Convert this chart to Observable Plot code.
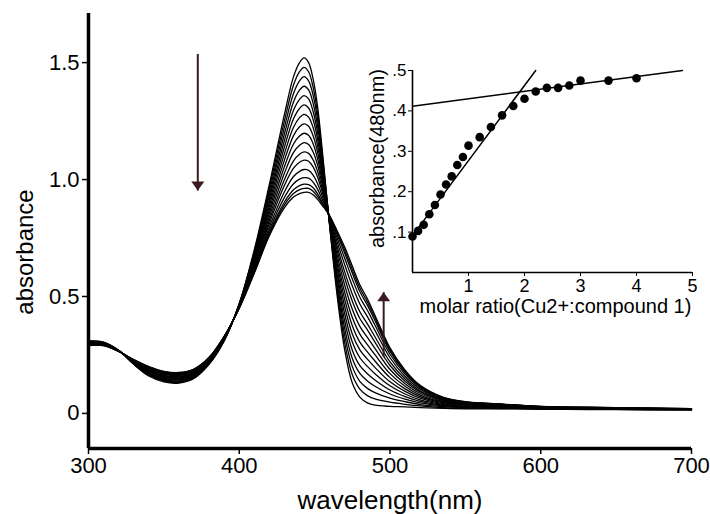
<!DOCTYPE html>
<html><head><meta charset="utf-8">
<script src="https://cdn.jsdelivr.net/npm/d3@7"></script>
<script src="https://cdn.jsdelivr.net/npm/@observablehq/plot@0.6"></script>
<style>
body{margin:0;background:#fff;}
#wrap{position:relative;width:710px;height:514px;}
#inset{position:absolute;left:355px;top:40px;}
</style>
</head><body><div id="wrap"><div id="main"></div><div id="inset"></div></div>
<script>
// ---- main chart: titration spectra (17 spectra) ----
const wavelengths = [300,310,320,330,340,350,360,370,380,390,400,410,420,430,436,440,443,446,449,452,455,460,465,470,475,480,485,490,500,510,520,535,550,575,600,650,700];
// one row per wavelength, 17 values (spectrum 1 .. spectrum 17)
const absorbanceRows = [
[.31,.309,.307,.306,.304,.303,.302,.300,.299,.297,.296,.295,.293,.292,.291,.291,.29],
[.305,.304,.303,.302,.301,.300,.299,.298,.297,.296,.295,.294,.293,.292,.291,.290,.29],
[.27,.27,.269,.269,.269,.268,.268,.268,.267,.267,.267,.266,.266,.266,.265,.265,.265],
[.21,.211,.213,.214,.216,.217,.218,.22,.221,.223,.224,.225,.227,.228,.229,.229,.23],
[.16,.163,.166,.168,.171,.174,.177,.18,.182,.185,.188,.19,.193,.196,.198,.199,.20],
[.135,.138,.141,.145,.148,.151,.154,.157,.160,.163,.167,.169,.172,.175,.177,.179,.18],
[.13,.133,.136,.139,.143,.146,.149,.152,.155,.158,.162,.164,.167,.17,.172,.174,.175],
[.15,.153,.156,.158,.161,.164,.167,.17,.172,.175,.178,.18,.183,.186,.188,.189,.19],
[.21,.212,.214,.216,.218,.221,.223,.225,.227,.229,.231,.233,.235,.237,.238,.239,.24],
[.31,.311,.313,.314,.316,.317,.318,.32,.321,.323,.324,.325,.327,.328,.329,.329,.33],
[.47,.469,.467,.466,.464,.463,.462,.46,.459,.457,.456,.455,.453,.452,.451,.451,.45],
[.70,.693,.686,.679,.672,.665,.658,.651,.644,.637,.63,.624,.617,.611,.606,.603,.60],
[.98,.965,.949,.934,.918,.903,.888,.872,.857,.841,.826,.813,.797,.784,.773,.767,.76],
[1.28,1.252,1.224,1.196,1.168,1.14,1.112,1.084,1.056,1.028,1.00,.976,.948,.924,.904,.892,.88],
[1.44,1.404,1.368,1.332,1.296,1.26,1.224,1.188,1.152,1.116,1.08,1.049,1.013,.982,.956,.94,.925],
[1.50,1.461,1.422,1.382,1.343,1.304,1.265,1.226,1.186,1.147,1.108,1.074,1.035,1.002,.974,.957,.94],
[1.52,1.48,1.44,1.399,1.359,1.319,1.279,1.238,1.198,1.158,1.118,1.083,1.043,1.008,.98,.962,.945],
[1.50,1.461,1.422,1.383,1.345,1.306,1.267,1.228,1.189,1.15,1.112,1.078,1.039,1.006,.978,.962,.945],
[1.43,1.395,1.361,1.326,1.291,1.257,1.222,1.187,1.153,1.118,1.084,1.054,1.019,.989,.965,.95,.935],
[1.31,1.282,1.255,1.227,1.199,1.172,1.144,1.116,1.089,1.061,1.034,1.01,.982,.958,.939,.927,.915],
[1.13,1.113,1.096,1.08,1.063,1.046,1.029,1.012,.996,.979,.962,.948,.931,.916,.904,.897,.89],
[.80,.803,.806,.81,.813,.816,.819,.822,.825,.828,.832,.834,.837,.84,.842,.844,.845],
[.50,.52,.539,.559,.578,.598,.618,.637,.657,.676,.696,.713,.732,.749,.763,.772,.78],
[.27,.301,.332,.362,.393,.424,.455,.486,.516,.547,.578,.604,.635,.662,.684,.697,.71],
[.13,.165,.2,.235,.27,.305,.34,.375,.41,.445,.48,.51,.545,.575,.60,.615,.63],
[.07,.104,.137,.171,.204,.238,.272,.305,.339,.372,.406,.435,.468,.497,.521,.536,.55],
[.045,.076,.107,.139,.17,.201,.232,.263,.294,.325,.357,.383,.414,.441,.463,.477,.49],
[.035,.062,.089,.116,.143,.17,.197,.224,.251,.278,.305,.328,.355,.378,.397,.409,.42],
[.03,.048,.065,.083,.10,.118,.135,.153,.17,.188,.205,.22,.238,.253,.265,.273,.28],
[.028,.039,.05,.061,.072,.083,.094,.105,.116,.127,.138,.147,.158,.168,.176,.18,.185],
[.025,.032,.038,.045,.052,.058,.065,.072,.078,.085,.092,.097,.104,.11,.114,.117,.12],
[.022,.025,.029,.032,.035,.039,.042,.046,.049,.052,.056,.059,.062,.065,.067,.069,.07],
[.02,.022,.024,.026,.028,.031,.033,.035,.037,.039,.041,.043,.045,.047,.048,.049,.05],
[.02,.021,.023,.024,.026,.027,.028,.03,.031,.033,.034,.035,.037,.038,.039,.039,.04],
[.018,.019,.02,.021,.021,.022,.023,.024,.025,.026,.026,.027,.028,.029,.029,.03,.03],
[.016,.017,.017,.018,.019,.019,.02,.02,.021,.022,.022,.023,.023,.024,.024,.025,.025],
[.015,.015,.016,.016,.016,.017,.017,.017,.018,.018,.019,.019,.019,.019,.02,.02,.02]
];
const mainXTicks = [300,400,500,600,700];
const mainYTicks = [0,0.5,1.0,1.5];
// annotation arrows (wavelength, absorbance start -> absorbance tip)
const arrowWavelength = [372.5, 495.8];
const arrowStart = [1.537, 0.24];
const arrowEnd = [0.953, 0.518];

// ---- inset: absorbance at 480 nm vs molar ratio ----
const molarRatio = [0,0.1,0.2,0.3,0.4,0.5,0.6,0.7,0.8,0.9,1.0,1.2,1.4,1.6,1.8,2.0,2.2,2.4,2.6,2.8,3.0,3.5,4.0];
const absorbance480 = [.089,.103,.118,.144,.167,.193,.218,.238,.266,.286,.314,.335,.360,.389,.412,.430,.448,.457,.457,.463,.475,.475,.481];
const fitRisingX = [0.02, 2.2];
const fitRisingY = [0.095, 0.5];
const fitPlateauX = [0, 4.82];
const fitPlateauY = [0.4115, 0.5];
const insetXTicks = [1,2,3,4,5];
const insetYTicks = [0.1,0.2,0.3,0.4,0.5];

const font = "'Liberation Sans', Arial, Helvetica, sans-serif";
const arrowColor = "#3a1a1e";

const spectra = [];
wavelengths.forEach((w, i) => absorbanceRows[i].forEach((a, k) => spectra.push({spectrum: k, wavelength: w, absorbance: a})));
const arrows = arrowWavelength.map((w, i) => ({w, y1: arrowStart[i], y2: arrowEnd[i]}));

const headDown = {draw(ctx) { ctx.moveTo(0, 0); ctx.lineTo(-6.5, -9); ctx.lineTo(6.5, -9); ctx.closePath(); }};
const headUp = {draw(ctx) { ctx.moveTo(0, 0); ctx.lineTo(-6.5, 9); ctx.lineTo(6.5, 9); ctx.closePath(); }};

const main = Plot.plot({
  width: 710, height: 514,
  marginLeft: 88, marginRight: 19, marginTop: 13, marginBottom: 66,
  style: {fontFamily: font, background: "transparent", color: "#000", overflow: "visible"},
  x: {domain: [300, 700]},
  y: {domain: [-0.15, 1.71]},
  marks: [
    Plot.line(spectra, {x: "wavelength", y: "absorbance", z: "spectrum", curve: "catmull-rom", stroke: "#000", strokeWidth: 1.3}),
    Plot.axisY(mainYTicks, {tickSize: 6, tickPadding: 3, fontSize: 22, strokeWidth: 1.5, label: null,
      tickFormat: d => d === 0 ? "0" : d.toFixed(1)}),
    Plot.axisX(mainXTicks, {tickSize: 6, tickPadding: 3, fontSize: 22, strokeWidth: 1.5, label: null}),
    Plot.ruleX([300], {stroke: "#000", strokeWidth: 3.5}),
    Plot.ruleY([-0.15], {stroke: "#000", strokeWidth: 3.5}),
    Plot.text(["absorbance"], {frameAnchor: "left", rotate: -90, textAnchor: "middle", lineAnchor: "middle", dx: -63, dy: 21, fontSize: 24, fill: "#000"}),
    Plot.text(["wavelength(nm)"], {frameAnchor: "bottom", textAnchor: "middle", lineAnchor: "middle", dy: 52, fontSize: 26, fill: "#000"}),
    Plot.link(arrows, {x1: "w", x2: "w", y1: "y1", y2: "y2", stroke: arrowColor, strokeWidth: 2}),
    Plot.dot([arrows[0]], {x: "w", y: "y2", symbol: headDown, r: 5, fill: arrowColor, stroke: "none"}),
    Plot.dot([arrows[1]], {x: "w", y: "y2", symbol: headUp, r: 5, fill: arrowColor, stroke: "none"})
  ]
});
document.getElementById("main").append(main);

const points = molarRatio.map((x, i) => ({x, y: absorbance480[i]}));
const fits = [
  ...fitRisingX.map((x, i) => ({fit: "rising", x, y: fitRisingY[i]})),
  ...fitPlateauX.map((x, i) => ({fit: "plateau", x, y: fitPlateauY[i]}))
];

const inset = Plot.plot({
  width: 355, height: 280,
  marginLeft: 57, marginRight: 18, marginTop: 30, marginBottom: 48,
  style: {fontFamily: font, background: "transparent", color: "#000", overflow: "visible"},
  x: {domain: [0, 5]},
  y: {domain: [0, 0.5]},
  marks: [
    Plot.ruleX([0], {stroke: "#000", strokeWidth: 1.6}),
    Plot.ruleY([0], {stroke: "#000", strokeWidth: 1.6}),
    Plot.axisX(insetXTicks, {tickSize: 4, tickPadding: 3, fontSize: 18, label: null}),
    Plot.axisY(insetYTicks, {tickSize: 4, tickPadding: 2, fontSize: 17, label: null,
      tickFormat: d => d.toFixed(1).replace(/^0/, "")}),
    Plot.line(fits, {x: "x", y: "y", z: "fit", stroke: "#000", strokeWidth: 1.5}),
    Plot.dot(points, {x: "x", y: "y", r: 4.3, fill: "#000", stroke: "none"}),
    Plot.text(["molar ratio(Cu2+:compound 1)"], {frameAnchor: "bottom", textAnchor: "middle", lineAnchor: "middle", dx: 3, dy: 34, fontSize: 20, fill: "#000"}),
    Plot.text(["absorbance(480nm)"], {frameAnchor: "left", rotate: -90, textAnchor: "middle", lineAnchor: "middle", dx: -35, dy: -13, fontSize: 20, fill: "#000"})
  ]
});
document.getElementById("inset").append(inset);
</script>
</body></html>
